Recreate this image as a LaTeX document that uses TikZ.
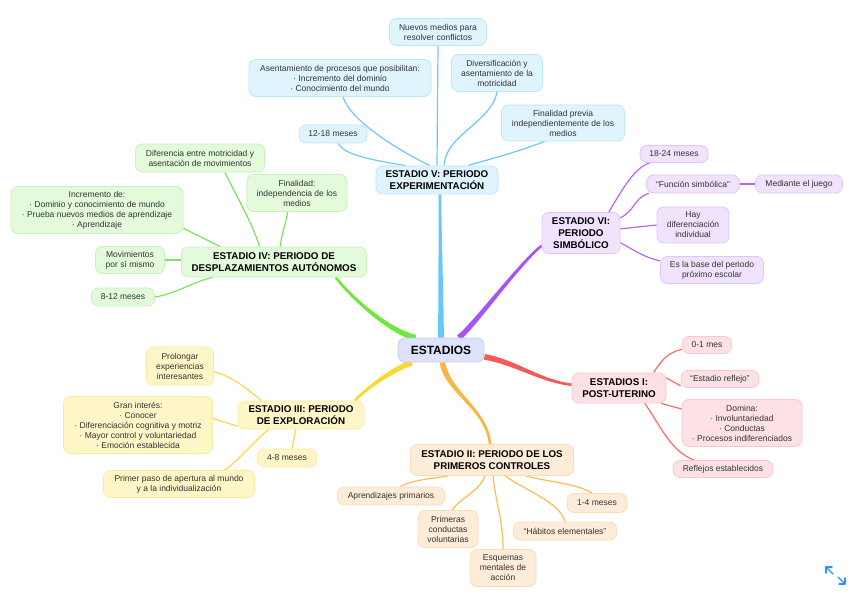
\documentclass[tikz,border=0pt]{standalone}
\usepackage{fontspec}
\setmainfont{Liberation Sans}
\usetikzlibrary{calc}
\pgfdeclarelayer{bg}
\pgfsetlayers{bg,main}
\definecolor{rootfill}{HTML}{DCE3FA}\definecolor{rootdraw}{HTML}{C3CCF2}
\definecolor{bfill}{HTML}{DFF4FD}\definecolor{bdraw}{HTML}{BEE6F8}\definecolor{bline}{HTML}{6DC8F7}\definecolor{bmain}{HTML}{66C7F8}
\definecolor{gfill}{HTML}{E3FADB}\definecolor{gdraw}{HTML}{C8F2B7}\definecolor{gline}{HTML}{78E657}\definecolor{gmain}{HTML}{6CE83E}
\definecolor{pfill}{HTML}{F1E2FD}\definecolor{pdraw}{HTML}{E0C5FA}\definecolor{pline}{HTML}{B766F5}\definecolor{pmain}{HTML}{A855F7}
\definecolor{yfill}{HTML}{FEF6C6}\definecolor{ydraw}{HTML}{FCEB9F}\definecolor{yline}{HTML}{FDD54A}\definecolor{ymain}{HTML}{FDD835}
\definecolor{ofill}{HTML}{FDECD7}\definecolor{odraw}{HTML}{FADCB9}\definecolor{oline}{HTML}{FDBB55}\definecolor{omain}{HTML}{FDB447}
\definecolor{rfill}{HTML}{FDE1E5}\definecolor{rdraw}{HTML}{F9C8CE}\definecolor{rline}{HTML}{F86B6B}\definecolor{rmain}{HTML}{F85858}
\definecolor{txt}{HTML}{333333}\definecolor{iconc}{HTML}{2E90FA}
\newcommand\mybranch[7]{%
 \coordinate (bS) at (#2);
 \coordinate (bE) at (#5);
 \coordinate (bC) at ($(bS)+(#3)$);
 \coordinate (bD) at ($(bE)+(#4)$);
 \coordinate (bS1) at ($(bS)!#6!90:(bC)$);
 \coordinate (bS2) at ($(bS)!#6!-90:(bC)$);
 \coordinate (bE1) at ($(bE)!#7!-90:(bD)$);
 \coordinate (bE2) at ($(bE)!#7!90:(bD)$);
 \fill[#1] (bS1) .. controls ($(bC)+(bS1)-(bS)$) and ($(bD)+(bE1)-(bE)$) .. (bE1) -- (bE2) .. controls ($(bD)+(bE2)-(bE)$) and ($(bC)+(bS2)-(bS)$) .. (bS2) -- cycle;
}
\tikzset{
 box/.style={rounded corners=7pt, draw, line width=0.8pt, align=center, inner sep=1pt, text=txt, font=\fontsize{8.5}{10}\selectfont},
 title/.style={box, text=black, font=\bfseries\fontsize{9.8}{12}\selectfont},
 bb/.style={box, fill=bfill, draw=bdraw}, bt/.style={title, fill=bfill, draw=bdraw},
 gb/.style={box, fill=gfill, draw=gdraw}, gt/.style={title, fill=gfill, draw=gdraw},
 pb/.style={box, fill=pfill, draw=pdraw}, pt/.style={title, fill=pfill, draw=pdraw},
 yb/.style={box, fill=yfill, draw=ydraw}, yt/.style={title, fill=yfill, draw=ydraw},
 ob/.style={box, fill=ofill, draw=odraw}, ot/.style={title, fill=ofill, draw=odraw},
 rb/.style={box, fill=rfill, draw=rdraw}, rt/.style={title, fill=rfill, draw=rdraw},
 sz/.style 2 args={minimum width=#1pt, minimum height=#2pt},
 lb/.style={draw=bline, line width=1.2pt},
 lg/.style={draw=gline, line width=1.2pt},
 lp/.style={draw=pline, line width=1.2pt},
 ly/.style={draw=yline, line width=1.2pt},
 lo/.style={draw=oline, line width=1.2pt},
 lr/.style={draw=rline, line width=1.2pt},
}
\begin{document}
\begin{tikzpicture}[x=1pt,y=-1pt]
\useasboundingbox (0,0) rectangle (848,593);
% root
\node[box, fill=rootfill, draw=rootdraw, text=black, font=\bfseries\fontsize{12}{14}\selectfont, sz={86}{24}] (root) at (441,350) {ESTADIOS};
% Stage V
\node[bt, sz={122}{28}] (v5) at (437,180) {ESTADIO V: PERIODO\\EXPERIMENTACIÓN};
\node[bb, sz={97}{27}] (nuevos) at (438,32) {Nuevos medios para\\resolver conflictos};
\node[bb, sz={182}{37}] (asent) at (340,78) {Asentamiento de procesos que posibilitan:\\· Incremento del dominio\\· Conocimiento del mundo};
\node[bb, sz={91}{37}] (divers) at (497,73) {Diversificación y\\asentamiento de la\\motricidad};
\node[bb, sz={123}{36}] (finprev) at (563,123) {Finalidad previa\\independientemente de los\\medios};
\node[bb, sz={68}{18}] (m1218) at (333,134) {12-18 meses};
% Stage VI
\node[pt, sz={78}{41}] (v6) at (581,233) {ESTADIO VI:\\PERIODO\\SIMBÓLICO};
\node[pb, sz={68}{17}] (m1824) at (674,154) {18-24 meses};
\node[pb, sz={93}{18}] (funcion) at (693,184) {“Función simbólica”};
\node[pb, sz={87}{18}] (juego) at (799,184) {Mediante el juego};
\node[pb, sz={72}{36}] (hay) at (693,225) {Hay\\diferenciación\\individual};
\node[pb, sz={103}{27}] (base) at (712,270) {Es la base del periodo\\próximo escolar};
% Stage IV
\node[gt, sz={185}{30}] (v4) at (274,262) {ESTADIO IV: PERIODO DE\\DESPLAZAMIENTOS AUTÓNOMOS};
\node[gb, sz={129}{28}] (difer) at (200,158) {Diferencia entre motricidad y\\asentación de movimientos};
\node[gb, sz={100}{37}] (finind) at (297,193) {Finalidad:\\independencia de los\\medios};
\node[gb, sz={172}{47}] (increm) at (97,210) {Incremento de:\\· Dominio y conocimiento de mundo\\· Prueba nuevos medios de aprendizaje\\· Aprendizaje};
\node[gb, sz={69}{27}] (movim) at (130,260) {Movimientos\\por sí mismo};
\node[gb, sz={63}{18}] (m812) at (123,297) {8-12 meses};
% Stage III
\node[yt, sz={126}{28}] (v3) at (301,415) {ESTADIO III: PERIODO\\DE EXPLORACIÓN};
\node[yb, sz={67}{38}] (prolong) at (180,366) {Prolongar\\experiencias\\interesantes};
\node[yb, sz={149}{57}] (gran) at (138,425) {Gran interés:\\· Conocer\\· Diferenciación cognitiva y motriz\\· Mayor control y voluntariedad\\· Emoción establecida};
\node[yb, sz={151}{27}] (primer) at (179,484) {Primer paso de apertura al mundo\\y a la individualización};
\node[yb, sz={59}{18}] (m48) at (287,458) {4-8 meses};
% Stage II
\node[ot, sz={163}{31}] (v2) at (492,460) {ESTADIO II: PERIODO DE LOS\\PRIMEROS CONTROLES};
\node[ob, sz={107}{18}] (aprend) at (391,496) {Aprendizajes primarios};
\node[ob, sz={60}{37}] (primeras) at (448,529) {Primeras\\conductas\\voluntarias};
\node[ob, sz={66}{37}] (esquemas) at (503,568) {Esquemas\\mentales de\\acción};
\node[ob, sz={103}{18}] (habitos) at (565,531) {“Hábitos elementales”};
\node[ob, sz={60}{19}] (m14) at (597,503) {1-4 meses};
% Stage I
\node[rt, sz={94}{30}] (v1) at (619,388) {ESTADIOS I:\\POST-UTERINO};
\node[rb, sz={49}{17}] (m01) at (707,345) {0-1 mes};
\node[rb, sz={78}{17}] (reflejo) at (720,379) {“Estadio reflejo”};
\node[rb, sz={120}{47}] (domina) at (742,423) {Domina:\\· Involuntariedad\\· Conductas\\· Procesos indiferenciados};
\node[rb, sz={100}{17}] (reflejos) at (723,469) {Reflejos establecidos};

\begin{pgfonlayer}{bg}
\fill[white] (0,0) rectangle (848,593);
% main branches
\mybranch{bmain}{root.north}{0,-40}{0,40}{$(v5.south)+(3,0)$}{2.8pt}{1.3pt}
\mybranch{gmain}{root.154}{-25,-5}{15,20}{v4.-14}{2.8pt}{1.3pt}
\mybranch{pmain}{root.35}{12,-8}{-20,15}{v6.-162}{2.8pt}{1.3pt}
\mybranch{ymain}{root.-157}{-20,8}{15,-15}{v3.15}{2.8pt}{1.3pt}
\mybranch{omain}{root.-84}{5,30}{-3,-35}{v2.97}{2.8pt}{1.3pt}
\mybranch{rmain}{root.-9}{30,5}{-30,-3}{v1.176}{2.8pt}{1.3pt}
% stage V
\draw[lb] (v5.north) -- (nuevos.south);
\draw[lb] ($(asent.south)+(3,0)$) .. controls +(8,25) and +(-30,-15) .. (v5.117);
\draw[lb] (m1218.-60) .. controls +(5,12) and +(-30,-5) .. (v5.155);
\draw[lb] (divers.south) .. controls +(-5,30) and +(0,-30) .. (v5.63);
\draw[lb] (finprev.-135) .. controls +(-25,10) and +(20,-6) .. (v5.25);
% stage VI
\draw[lp] (m1824.-160) .. controls +(-15,5) and +(15,-25) .. (v6.37);
\draw[lp] (funcion.-168) .. controls +(-15,5) and +(15,-8) .. (v6.21);
\draw[lp] (hay.west) -- (v6.6);
\draw[lp] (base.170) .. controls +(-15,-3) and +(15,8) .. (v6.-14);
\draw[lp] (funcion.east) -- (juego.west);
% stage IV
\draw[lg] (difer.-30) .. controls +(12,25) and +(-8,-25) .. (v4.133);
\draw[lg] (finind.-116) .. controls +(-3,15) and +(2,-15) .. (v4.68);
\draw[lg] (increm.-12) -- (v4.164);
\draw[lg] (movim.east) -- (movim.east -| v4.west);
\draw[lg] (m812.east) .. controls +(20,-3) and +(-20,5) .. (v4.-166);
% stage III
\draw[ly] (prolong.-10) .. controls +(20,5) and +(-15,-12) .. (v3.160);
\draw[ly] (gran.5) -- (v3.190);
\draw[ly] (primer.17) .. controls +(15,-10) and +(-15,12) .. (v3.-156);
\draw[ly] (m48.62) -- (v3.-110);
% stage II
\draw[lo] (aprend.45) .. controls +(10,-6) and +(-20,3) .. (v2.-160);
\draw[lo] (primeras.78) .. controls +(8,-12) and +(-5,15) .. (v2.-114);
\draw[lo] (esquemas.north) .. controls +(0,-30) and +(3,30) .. (v2.-86);
\draw[lo] (habitos.north) .. controls +(-5,-20) and +(15,12) .. (v2.-50);
\draw[lo] (m14.117) .. controls +(-15,-10) and +(15,5) .. (v2.-25);
% stage I
\draw[lr] (m01.-170) .. controls +(-15,3) and +(8,-12) .. (v1.24);
\draw[lr] (reflejo.190) -- (v1.12);
\draw[lr] (domina.167) -- (v1.-20);
\draw[lr] (reflejos.163) .. controls +(-25,-10) and +(15,20) .. (v1.-31);
\end{pgfonlayer}
% expand icon
\begin{scope}[draw=iconc, line width=1.4pt, line cap=round, line join=round]
\draw (833,574) -- (826,567);
\draw (826,573) -- (826,567) -- (832,567);
\draw (838,577) -- (845,584);
\draw (845,578) -- (845,584) -- (839,584);
\end{scope}
\end{tikzpicture}
\end{document}
